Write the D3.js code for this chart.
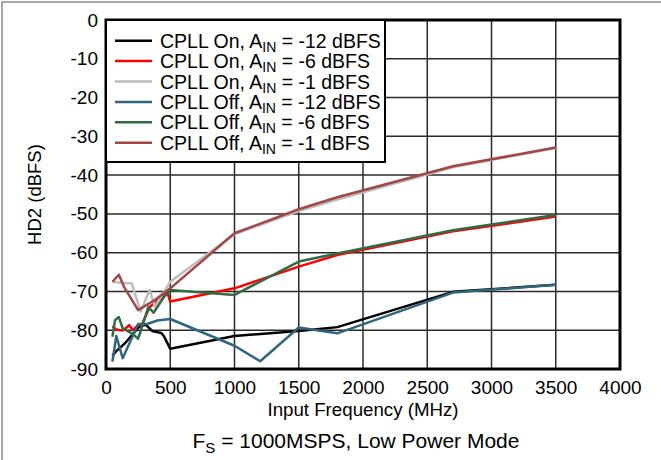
<!DOCTYPE html>
<html>
<head>
<meta charset="utf-8">
<script src="https://cdn.jsdelivr.net/npm/d3@7"></script>
<style>
    body { margin: 0; background: #fff; }
    svg { font-family: "Liberation Sans", Arial, sans-serif; }
</style>
</head>
<body>
<div id="chart"></div>
<script>
// x ticks / y ticks
const xTicks = [0, 500, 1000, 1500, 2000, 2500, 3000, 3500, 4000];
const yTicks = [0, -10, -20, -30, -40, -50, -60, -70, -80, -90];

// CPLL On, AIN = -12 dBFS
const onM12Freq = [50, 80, 150, 260, 310, 360, 430, 450, 500, 1000, 1500, 1800, 2700, 3500];
const onM12Hd2  = [-86.6, -85.4, -83.3, -79.0, -78.6, -80.2, -80.7, -81.5, -84.8, -81.5, -80.2, -79.2, -70.1, -68.3];

// CPLL On, AIN = -6 dBFS
const onM6Freq = [50, 80, 130, 180, 210, 250, 280, 340, 380, 450, 480, 500, 1000, 1500, 1800, 2700, 3500];
const onM6Hd2  = [-79.0, -79.8, -80.1, -78.7, -79.9, -78.7, -78.5, -74.0, -73.0, -71.0, -70.5, -72.6, -69.2, -63.6, -60.6, -54.5, -50.7];

// CPLL On, AIN = -1 dBFS
const onM1Freq = [50, 100, 160, 200, 270, 340, 380, 500, 1000, 1500, 1800, 2700, 3500];
const onM1Hd2  = [-67.5, -67.7, -67.9, -67.9, -75.2, -69.6, -73.9, -67.5, -55.2, -49.3, -46.3, -38.0, -33.0];

// CPLL Off, AIN = -12 dBFS
const offM12Freq = [50, 80, 130, 250, 320, 400, 500, 1000, 1200, 1500, 1800, 2700, 3500];
const offM12Hd2  = [-88.1, -81.5, -87.2, -78.4, -78.4, -77.5, -77.1, -84.0, -88.0, -79.3, -80.8, -70.3, -68.3];

// CPLL Off, AIN = -6 dBFS
const offM6Freq = [50, 70, 100, 130, 210, 250, 330, 370, 450, 500, 1000, 1500, 1800, 2700, 3500];
const offM6Hd2  = [-81.7, -77.4, -76.6, -79.5, -81.0, -82.2, -74.0, -75.5, -71.5, -69.6, -70.9, -62.3, -60.2, -54.2, -50.3];

// CPLL Off, AIN = -1 dBFS
const offM1Freq = [50, 100, 140, 250, 380, 500, 1000, 1500, 1800, 2700, 3500];
const offM1Hd2  = [-67.5, -65.7, -68.8, -74.8, -72.2, -69.2, -55.0, -48.8, -45.7, -37.7, -32.9];

const seriesNames = ["CPLL On", "CPLL On", "CPLL On", "CPLL Off", "CPLL Off", "CPLL Off"];
const seriesAin = ["-12", "-6", "-1", "-12", "-6", "-1"];
const seriesColors = ["#000000", "#ff0000", "#bdbdbd", "#2f6680", "#2e6d46", "#a34646"];

class Hd2Chart {
    constructor(_parentElement) {
        this.parentElement = _parentElement;
        this.initVis();
    }

    initVis() {
        const vis = this;

        vis.totalWidth = 661;
        vis.totalHeight = 460;
        vis.margin = { top: 20, right: 41, bottom: 91, left: 106 };
        vis.width = vis.totalWidth - vis.margin.left - vis.margin.right;
        vis.height = vis.totalHeight - vis.margin.top - vis.margin.bottom;

        vis.root = d3.select(`#${vis.parentElement}`)
            .append("svg")
            .attr("width", vis.totalWidth)
            .attr("height", vis.totalHeight);

        // outer frame
        vis.root.append("rect")
            .attr("x", 2).attr("y", 2)
            .attr("width", 800).attr("height", 600)
            .attr("fill", "none")
            .attr("stroke", "#8c8c8c")
            .attr("stroke-width", 1.5);

        vis.svg = vis.root.append("g")
            .attr("transform", `translate(${vis.margin.left},${vis.margin.top})`);

        vis.xScale = d3.scaleLinear().domain([0, 4000]).range([0, vis.width]);
        vis.yScale = d3.scaleLinear().domain([-90, 0]).range([vis.height, 0]);

        vis.series = [
            [onM12Freq, onM12Hd2], [onM6Freq, onM6Hd2], [onM1Freq, onM1Hd2],
            [offM12Freq, offM12Hd2], [offM6Freq, offM6Hd2], [offM1Freq, offM1Hd2]
        ].map((s, i) => ({
            name: seriesNames[i],
            ain: seriesAin[i],
            color: seriesColors[i],
            values: s[0].map((f, j) => ({ f: f, v: s[1][j] }))
        }));

        vis.updateVis();
    }

    updateVis() {
        const vis = this;

        // Grid
        vis.svg.append("g")
            .attr("class", "x-grid")
            .selectAll("line")
            .data(xTicks.slice(1, -1))
            .enter().append("line")
            .attr("x1", d => vis.xScale(d)).attr("x2", d => vis.xScale(d))
            .attr("y1", 0).attr("y2", vis.height)
            .attr("stroke", "#2a2a2a")
            .attr("stroke-width", 1.5);

        vis.svg.append("g")
            .attr("class", "y-grid")
            .selectAll("line")
            .data(yTicks.slice(1, -1))
            .enter().append("line")
            .attr("x1", 0).attr("x2", vis.width)
            .attr("y1", d => vis.yScale(d)).attr("y2", d => vis.yScale(d))
            .attr("stroke", "#2a2a2a")
            .attr("stroke-width", 1.5);

        // Axes (labels only)
        const xAxis = d3.axisBottom(vis.xScale).tickValues(xTicks).tickFormat(d => String(d)).tickSize(0).tickPadding(12);
        const yAxis = d3.axisLeft(vis.yScale).tickValues(yTicks).tickFormat(d => String(d)).tickSize(0).tickPadding(8);

        vis.svg.append("g")
            .attr("class", "x-axis")
            .attr("transform", `translate(0,${vis.height})`)
            .call(xAxis)
            .call(g => g.select(".domain").remove())
            .selectAll("text")
            .attr("font-size", 19)
            .attr("font-family", "Liberation Sans, Arial, sans-serif")
            .attr("fill", "#000");

        vis.svg.append("g")
            .attr("class", "y-axis")
            .call(yAxis)
            .call(g => g.select(".domain").remove())
            .selectAll("text")
            .attr("font-size", 19)
            .attr("font-family", "Liberation Sans, Arial, sans-serif")
            .attr("fill", "#000");

        // Lines
        const line = d3.line()
            .x(d => vis.xScale(d.f))
            .y(d => vis.yScale(d.v));

        vis.svg.selectAll(".series")
            .data(vis.series)
            .enter().append("path")
            .attr("class", "series")
            .attr("d", d => line(d.values))
            .attr("fill", "none")
            .attr("stroke", d => d.color)
            .attr("stroke-width", 2.5)
            .attr("stroke-linejoin", "round");

        // Plot frame
        vis.svg.append("rect")
            .attr("x", 0).attr("y", 0)
            .attr("width", vis.width).attr("height", vis.height)
            .attr("fill", "none")
            .attr("stroke", "#000")
            .attr("stroke-width", 3);

        // Axis titles
        vis.svg.append("text")
            .attr("text-anchor", "middle")
            .attr("x", vis.width / 2)
            .attr("y", vis.height + 47)
            .attr("font-size", 18.7)
            .text("Input Frequency (MHz)");

        vis.svg.append("text")
            .attr("text-anchor", "middle")
            .attr("transform", "rotate(-90)")
            .attr("x", -vis.height / 2)
            .attr("y", -65)
            .attr("font-size", 18.5)
            .text("HD2 (dBFS)");

        const sub = vis.root.append("text")
            .attr("text-anchor", "middle")
            .attr("x", 356)
            .attr("y", 448)
            .attr("font-size", 21);
        sub.append("tspan").text("F");
        sub.append("tspan").attr("font-size", 15).attr("dy", 5).text("S");
        sub.append("tspan").attr("dy", -5).text(" = 1000MSPS, Low Power Mode");

        // Legend
        const legend = vis.svg.append("g").attr("class", "legend");
        legend.append("rect")
            .attr("x", 0).attr("y", 0)
            .attr("width", 279).attr("height", 142)
            .attr("fill", "#fff")
            .attr("stroke", "#000")
            .attr("stroke-width", 2);

        const rows = legend.selectAll(".legend-row")
            .data(vis.series)
            .enter().append("g")
            .attr("class", "legend-row")
            .attr("transform", (d, i) => `translate(0,${20.7 + i * 20.4})`);

        rows.append("line")
            .attr("x1", 9).attr("x2", 46)
            .attr("y1", 0).attr("y2", 0)
            .attr("stroke", d => d.color)
            .attr("stroke-width", 2.5);

        const txt = rows.append("text")
            .attr("x", 54)
            .attr("y", 7)
            .attr("font-size", 19.5);
        txt.append("tspan").text(d => `${d.name}, A`);
        txt.append("tspan").attr("font-size", 14).attr("dy", 4).text("IN");
        txt.append("tspan").attr("dy", -4).text(d => ` = ${d.ain} dBFS`);
    }
}

new Hd2Chart("chart");
</script>
</body>
</html>
